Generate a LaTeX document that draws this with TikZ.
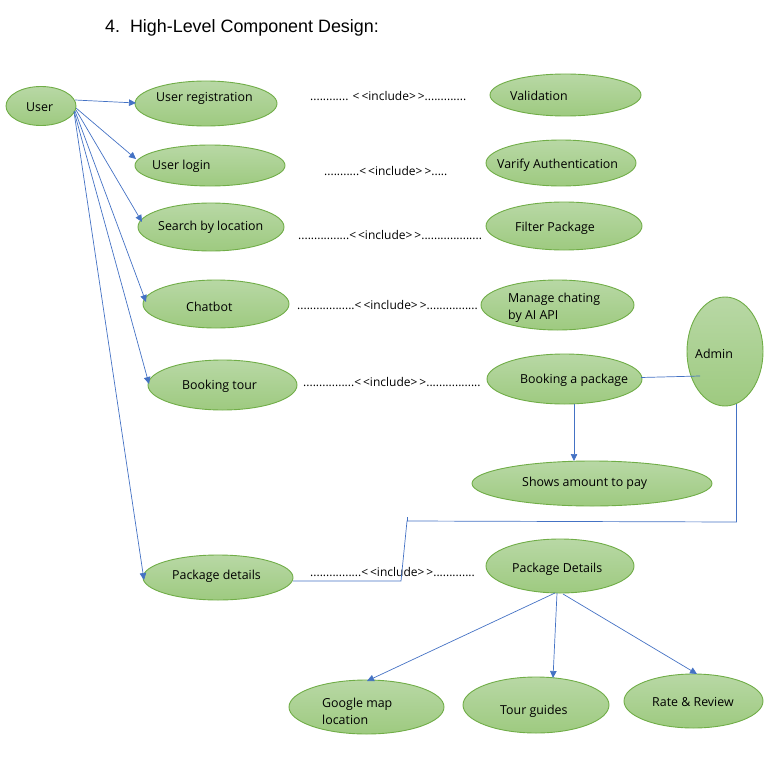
\documentclass[tikz,border=0pt]{standalone}
\usepackage{fontspec}
\setmainfont{Open Sans}
\newfontfamily\titlefont{Liberation Sans}
\usetikzlibrary{arrows.meta,shapes.geometric}
\definecolor{ucTop}{RGB}{184,216,165}
\definecolor{ucBot}{RGB}{158,202,128}
\definecolor{ucEdge}{RGB}{112,173,71}
\definecolor{lnBlue}{RGB}{68,114,196}
\tikzset{
  uc/.style 2 args={ellipse, draw=ucEdge, line width=0.9pt, top color=ucTop, bottom color=ucBot,
    minimum width=#1, minimum height=#2, inner sep=0pt},
  txt/.style={font=\fontsize{12.4}{17}\selectfont, inner sep=0pt, anchor=west, align=left, yshift=-1pt},
  inc/.style={font=\fontsize{12}{14}\selectfont, inner sep=0pt, anchor=west, yshift=-1pt},
  conn/.style={draw=lnBlue, line width=0.7pt},
  arr/.style={conn, -{Triangle[length=7pt,width=6.5pt]}}
}
\begin{document}
\begin{tikzpicture}[x=1pt,y=-1pt]
\useasboundingbox (0,0) rectangle (771,773);
\node[anchor=west, inner sep=0pt, font=\titlefont\fontsize{17.9}{20}\selectfont] (title) at (105,27.5) {4.\ \ High-Level Component Design:};

% ellipses
\node[uc={70pt}{39pt}] (user) at (41,106) {};
\node[uc={142pt}{45pt}] (reg) at (206,103.5) {};
\node[uc={151pt}{42pt}] (val) at (565.5,95) {};
\node[uc={150pt}{41pt}] (login) at (210,165.5) {};
\node[uc={150pt}{46pt}] (auth) at (561,163) {};
\node[uc={146pt}{48pt}] (search) at (211,227) {};
\node[uc={156pt}{48pt}] (filter) at (564,226) {};
\node[uc={146pt}{48pt}] (chat) at (216,304) {};
\node[uc={153pt}{50pt}] (manage) at (557.5,305) {};
\node[uc={76pt}{109pt}] (admin) at (725,351.5) {};
\node[uc={149pt}{50pt}] (btour) at (222.5,385) {};
\node[uc={155pt}{50pt}] (bpack) at (564.5,379) {};
\node[uc={240pt}{45pt}] (amount) at (592,483.5) {};
\node[uc={150pt}{45pt}] (pdet) at (218,577.5) {};
\node[uc={148pt}{54pt}] (pDet) at (560,566) {};
\node[uc={155pt}{54pt}] (gmap) at (366.5,707) {};
\node[uc={146pt}{56pt}] (guide) at (536,705) {};
\node[uc={139pt}{54pt}] (rate) at (693.5,701) {};

% texts
\node[txt] (tuser) at (26,106) {User};
\node[txt] (treg) at (156,97) {User registration};
\node[txt] (tval) at (510,95) {Validation};
\node[txt] (tlogin) at (152,165) {User login};
\node[txt] (tauth) at (497,164) {Varify Authentication};
\node[txt] (tsearch) at (158,226) {Search by location};
\node[txt] (tfilter) at (515,227) {Filter Package};
\node[txt] (tchat) at (186,306) {Chatbot};
\node[txt] (tmanage) at (508,306.5) {Manage chating\\by AI API};
\node[txt] (tadmin) at (695,353) {Admin};
\node[txt] (tbtour) at (182,385) {Booking tour};
\node[txt] (tbpack) at (520,379) {Booking a package};
\node[txt] (tamount) at (522,482) {Shows amount to pay};
\node[txt] (tpdet) at (172,575) {Package details};
\node[txt] (tpDet) at (512,568) {Package Details};
\node[txt] (tgmap) at (322,710.5) {Google map\\location};
\node[txt] (tguide) at (500,710) {Tour guides};
\node[txt] (trate) at (652,701) {Rate \& Review};

% include labels
\node[inc] (i1) at (310,95) {............ <\,<include>\,>.............};
\node[inc] (i2) at (324,170) {...........<\,<include>\,>.....};
\node[inc] (i3) at (298,234) {................<\,<include>\,>...................};
\node[inc] (i4) at (297,304) {..................<\,<include>\,>................};
\node[inc] (i5) at (303,381) {................<\,<include>\,>.................};
\node[inc] (i6) at (310,571) {................<\,<include>\,>.............};

% user connectors
\coordinate (u1) at (75,100);
\coordinate (u2) at (76,108);
\coordinate (u3) at (76,110);
\coordinate (u4) at (75,111);
\coordinate (u5) at (74,111);
\coordinate (u6) at (74,112);
\coordinate (e1) at (136,103);
\coordinate (e2) at (136,159);
\coordinate (e3) at (142,222);
\coordinate (e4) at (146,302);
\coordinate (e5) at (149,384);
\coordinate (e6) at (144,580);
\draw[arr] (u1) -- (e1);
\draw[arr] (u2) -- (e2);
\draw[arr] (u3) -- (e3);
\draw[arr] (u4) -- (e4);
\draw[arr] (u5) -- (e5);
\draw[arr] (u6) -- (e6);

% booking / admin
\coordinate (bpE) at (641,377.5);
\coordinate (adIn) at (700,376);
\draw[conn] (bpE) -- (adIn);
\coordinate (bpS) at (574,404);
\coordinate (amN) at (574,461);
\draw[arr] (bpS) -- (amN);
\coordinate (adS) at (736.5,404);
\coordinate (pdE) at (293,581);
\draw[conn] (adS) -- (736.5,522) -- (407,521) -- (401,581) -- (pdE);
\draw[conn] (407,517) -- (407,521);

% package details children
\coordinate (p1) at (555,593);
\coordinate (p2) at (557,593);
\coordinate (p3) at (563,594);
\coordinate (g1) at (367,681);
\coordinate (g2) at (553,678);
\coordinate (g3) at (697,674);
\draw[arr] (p1) -- (g1);
\draw[arr] (p2) -- (g2);
\draw[arr] (p3) -- (g3);
\end{tikzpicture}
\end{document}
